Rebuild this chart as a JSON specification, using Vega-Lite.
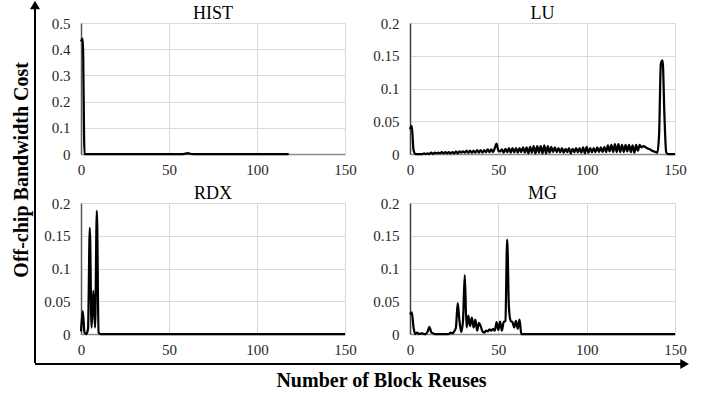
{
  "$schema": "https://vega.github.io/schema/vega-lite/v6.json",
  "padding": {"left": 0, "top": 0, "right": 0, "bottom": 0},
  "background": "white",
  "config": {
    "font": "Times New Roman, Liberation Serif, serif",
    "view": {"stroke": null},
    "axis": {"labelFont": "Times New Roman, Liberation Serif, serif", "labelFontSize": 15, "labelColor": "#262626", "ticks": false, "gridColor": "#d9d9d9", "gridWidth": 1, "title": null, "labelFlush": false},
    "line": {"color": "black", "strokeWidth": 2.25, "interpolate": "monotone"}
  },
  "datasets": {
    "HIST": [
      {"reuse": 0, "cost": 0.43}, {"reuse": 1, "cost": 0.44}, {"reuse": 2, "cost": 0}, {"reuse": 3, "cost": 0},
      {"reuse": 20, "cost": 0}, {"reuse": 40, "cost": 0}, {"reuse": 58, "cost": 0}, {"reuse": 60, "cost": 0.002},
      {"reuse": 61, "cost": 0.003}, {"reuse": 62, "cost": 0.001}, {"reuse": 64, "cost": 0}, {"reuse": 80, "cost": 0},
      {"reuse": 100, "cost": 0}, {"reuse": 118, "cost": 0}
    ],
    "RDX": [
      {"reuse": 0, "cost": 0.004}, {"reuse": 1, "cost": 0.035}, {"reuse": 2, "cost": 0.002}, {"reuse": 3, "cost": 0},
      {"reuse": 4, "cost": 0.008}, {"reuse": 5, "cost": 0.162}, {"reuse": 6, "cost": 0.01}, {"reuse": 7, "cost": 0.066},
      {"reuse": 8, "cost": 0.01}, {"reuse": 9, "cost": 0.188}, {"reuse": 10, "cost": 0.002}, {"reuse": 11, "cost": 0},
      {"reuse": 30, "cost": 0}, {"reuse": 60, "cost": 0}, {"reuse": 90, "cost": 0}, {"reuse": 120, "cost": 0}, {"reuse": 150, "cost": 0}
    ],
    "MG": [
      {"reuse": 0, "cost": 0.03}, {"reuse": 1, "cost": 0.033}, {"reuse": 2, "cost": 0.01}, {"reuse": 3, "cost": 0},
      {"reuse": 4, "cost": 0.002}, {"reuse": 5, "cost": 0}, {"reuse": 7, "cost": 0.001}, {"reuse": 8, "cost": 0},
      {"reuse": 9, "cost": 0}, {"reuse": 10, "cost": 0.004}, {"reuse": 11, "cost": 0.011}, {"reuse": 12, "cost": 0.003},
      {"reuse": 13, "cost": 0.001}, {"reuse": 14, "cost": 0}, {"reuse": 18, "cost": 0}, {"reuse": 22, "cost": 0},
      {"reuse": 23, "cost": 0.002}, {"reuse": 24, "cost": 0.001}, {"reuse": 25, "cost": 0.004}, {"reuse": 26, "cost": 0.01},
      {"reuse": 27, "cost": 0.047}, {"reuse": 28, "cost": 0.02}, {"reuse": 29, "cost": 0.003}, {"reuse": 30, "cost": 0.02},
      {"reuse": 31, "cost": 0.09}, {"reuse": 32, "cost": 0.01}, {"reuse": 33, "cost": 0.028}, {"reuse": 34, "cost": 0.012},
      {"reuse": 35, "cost": 0.025}, {"reuse": 36, "cost": 0.01}, {"reuse": 37, "cost": 0.022}, {"reuse": 38, "cost": 0.005},
      {"reuse": 39, "cost": 0.017}, {"reuse": 40, "cost": 0.012}, {"reuse": 41, "cost": 0.004}, {"reuse": 42, "cost": 0.002},
      {"reuse": 43, "cost": 0.005}, {"reuse": 44, "cost": 0.004}, {"reuse": 45, "cost": 0.007}, {"reuse": 46, "cost": 0.005},
      {"reuse": 47, "cost": 0.008}, {"reuse": 48, "cost": 0.005}, {"reuse": 49, "cost": 0.018}, {"reuse": 50, "cost": 0.006},
      {"reuse": 51, "cost": 0.019}, {"reuse": 52, "cost": 0.005}, {"reuse": 53, "cost": 0.018}, {"reuse": 54, "cost": 0.02},
      {"reuse": 55, "cost": 0.144}, {"reuse": 56, "cost": 0.04}, {"reuse": 57, "cost": 0.02}, {"reuse": 58, "cost": 0.018},
      {"reuse": 59, "cost": 0.01}, {"reuse": 60, "cost": 0.02}, {"reuse": 61, "cost": 0.008}, {"reuse": 62, "cost": 0.022},
      {"reuse": 63, "cost": 0}, {"reuse": 64, "cost": 0}, {"reuse": 90, "cost": 0}, {"reuse": 120, "cost": 0}, {"reuse": 150, "cost": 0}
    ],
    "LU": [
      {"reuse": 0, "cost": 0.038}, {"reuse": 1, "cost": 0.043}, {"reuse": 2, "cost": 0.006}, {"reuse": 3, "cost": 0},
      {"reuse": 4, "cost": 0}, {"reuse": 5, "cost": 0}, {"reuse": 6, "cost": 0}, {"reuse": 7, "cost": 0},
      {"reuse": 8, "cost": 0.001}, {"reuse": 9, "cost": 0}, {"reuse": 10, "cost": 0.001}, {"reuse": 11, "cost": 0},
      {"reuse": 12, "cost": 0.002}, {"reuse": 13, "cost": 0}, {"reuse": 14, "cost": 0.002}, {"reuse": 15, "cost": 0.001},
      {"reuse": 16, "cost": 0.002}, {"reuse": 17, "cost": 0.001}, {"reuse": 18, "cost": 0.003}, {"reuse": 19, "cost": 0.001},
      {"reuse": 20, "cost": 0.003}, {"reuse": 21, "cost": 0.001}, {"reuse": 22, "cost": 0.003}, {"reuse": 23, "cost": 0.001},
      {"reuse": 24, "cost": 0.003}, {"reuse": 25, "cost": 0.001}, {"reuse": 26, "cost": 0.004}, {"reuse": 27, "cost": 0.001},
      {"reuse": 28, "cost": 0.004}, {"reuse": 29, "cost": 0.002}, {"reuse": 30, "cost": 0.004}, {"reuse": 31, "cost": 0.002},
      {"reuse": 32, "cost": 0.005}, {"reuse": 33, "cost": 0.002}, {"reuse": 34, "cost": 0.005}, {"reuse": 35, "cost": 0.002},
      {"reuse": 36, "cost": 0.005}, {"reuse": 37, "cost": 0.002}, {"reuse": 38, "cost": 0.006}, {"reuse": 39, "cost": 0.002},
      {"reuse": 40, "cost": 0.006}, {"reuse": 41, "cost": 0.002}, {"reuse": 42, "cost": 0.006}, {"reuse": 43, "cost": 0.003},
      {"reuse": 44, "cost": 0.007}, {"reuse": 45, "cost": 0.003}, {"reuse": 46, "cost": 0.007}, {"reuse": 47, "cost": 0.003},
      {"reuse": 48, "cost": 0.009}, {"reuse": 49, "cost": 0.016}, {"reuse": 50, "cost": 0.005}, {"reuse": 51, "cost": 0.004},
      {"reuse": 52, "cost": 0.007}, {"reuse": 53, "cost": 0.002}, {"reuse": 54, "cost": 0.008}, {"reuse": 55, "cost": 0.003},
      {"reuse": 56, "cost": 0.009}, {"reuse": 57, "cost": 0.002}, {"reuse": 58, "cost": 0.009}, {"reuse": 59, "cost": 0.003},
      {"reuse": 60, "cost": 0.009}, {"reuse": 61, "cost": 0.002}, {"reuse": 62, "cost": 0.009}, {"reuse": 63, "cost": 0.003},
      {"reuse": 64, "cost": 0.01}, {"reuse": 65, "cost": 0.002}, {"reuse": 66, "cost": 0.01}, {"reuse": 67, "cost": 0.001},
      {"reuse": 68, "cost": 0.011}, {"reuse": 69, "cost": 0.002}, {"reuse": 70, "cost": 0.012}, {"reuse": 71, "cost": 0.001},
      {"reuse": 72, "cost": 0.012}, {"reuse": 73, "cost": 0.002}, {"reuse": 74, "cost": 0.012}, {"reuse": 75, "cost": 0.001},
      {"reuse": 76, "cost": 0.013}, {"reuse": 77, "cost": 0.001}, {"reuse": 78, "cost": 0.012}, {"reuse": 79, "cost": 0.002},
      {"reuse": 80, "cost": 0.011}, {"reuse": 81, "cost": 0.003}, {"reuse": 82, "cost": 0.01}, {"reuse": 83, "cost": 0.003},
      {"reuse": 84, "cost": 0.009}, {"reuse": 85, "cost": 0.003}, {"reuse": 86, "cost": 0.009}, {"reuse": 87, "cost": 0.002},
      {"reuse": 88, "cost": 0.008}, {"reuse": 89, "cost": 0.003}, {"reuse": 90, "cost": 0.009}, {"reuse": 91, "cost": 0.001},
      {"reuse": 92, "cost": 0.008}, {"reuse": 93, "cost": 0.003}, {"reuse": 94, "cost": 0.009}, {"reuse": 95, "cost": 0.003},
      {"reuse": 96, "cost": 0.009}, {"reuse": 97, "cost": 0.002}, {"reuse": 98, "cost": 0.01}, {"reuse": 99, "cost": 0.001},
      {"reuse": 100, "cost": 0.011}, {"reuse": 101, "cost": 0.002}, {"reuse": 102, "cost": 0.009}, {"reuse": 103, "cost": 0.003},
      {"reuse": 104, "cost": 0.009}, {"reuse": 105, "cost": 0.003}, {"reuse": 106, "cost": 0.01}, {"reuse": 107, "cost": 0.003},
      {"reuse": 108, "cost": 0.01}, {"reuse": 109, "cost": 0.003}, {"reuse": 110, "cost": 0.011}, {"reuse": 111, "cost": 0.003},
      {"reuse": 112, "cost": 0.013}, {"reuse": 113, "cost": 0.004}, {"reuse": 114, "cost": 0.014}, {"reuse": 115, "cost": 0.003},
      {"reuse": 116, "cost": 0.015}, {"reuse": 117, "cost": 0.003}, {"reuse": 118, "cost": 0.015}, {"reuse": 119, "cost": 0.003},
      {"reuse": 120, "cost": 0.014}, {"reuse": 121, "cost": 0.003}, {"reuse": 122, "cost": 0.014}, {"reuse": 123, "cost": 0.004},
      {"reuse": 124, "cost": 0.014}, {"reuse": 125, "cost": 0.003}, {"reuse": 126, "cost": 0.013}, {"reuse": 127, "cost": 0.002},
      {"reuse": 128, "cost": 0.014}, {"reuse": 129, "cost": 0.005}, {"reuse": 130, "cost": 0.014}, {"reuse": 131, "cost": 0.01},
      {"reuse": 132, "cost": 0.012}, {"reuse": 133, "cost": 0.011}, {"reuse": 134, "cost": 0.009}, {"reuse": 135, "cost": 0.008},
      {"reuse": 136, "cost": 0.007}, {"reuse": 137, "cost": 0.005}, {"reuse": 138, "cost": 0.004}, {"reuse": 139, "cost": 0.003},
      {"reuse": 140, "cost": 0.002}, {"reuse": 141, "cost": 0.03}, {"reuse": 142, "cost": 0.138}, {"reuse": 143, "cost": 0.143},
      {"reuse": 144, "cost": 0.06}, {"reuse": 145, "cost": 0.003}, {"reuse": 146, "cost": 0}, {"reuse": 147, "cost": 0},
      {"reuse": 148, "cost": 0}, {"reuse": 149, "cost": 0}, {"reuse": 150, "cost": 0}
    ]
  },
  "spacing": -6,
  "vconcat": [
    {
      "spacing": 3,
      "hconcat": [
        {
          "width": 40,
          "height": 340,
          "data": {"values": [{"label": "Off-chip Bandwidth Cost"}]},
          "layer": [
            {
              "mark": {"type": "rule", "color": "black", "strokeWidth": 2, "clip": false},
              "encoding": {
                "x": {"datum": 0.875, "type": "quantitative", "scale": {"domain": [0, 1], "nice": false}, "axis": null},
                "y": {"datum": 0, "type": "quantitative", "scale": {"domain": [0, 1], "nice": false}, "axis": null},
                "y2": {"datum": 1.041}
              }
            },
            {
              "mark": {"type": "point", "shape": "triangle-up", "filled": true, "color": "black", "size": 100, "opacity": 1, "clip": false},
              "encoding": {
                "x": {"datum": 0.875, "type": "quantitative"},
                "y": {"datum": 1.053, "type": "quantitative"}
              }
            },
            {
              "mark": {"type": "text", "angle": 270, "font": "Times New Roman, Liberation Serif, serif", "fontSize": 20, "fontWeight": "bold", "align": "center", "baseline": "middle", "color": "black"},
              "encoding": {
                "x": {"datum": 0.54, "type": "quantitative"},
                "y": {"datum": 0.568, "type": "quantitative"},
                "text": {"field": "label"}
              }
            }
          ]
        },
        {
          "spacing": 8,
          "vconcat": [
            {
              "spacing": 15,
              "hconcat": [
                {
                  "title": {"text": "HIST", "font": "Times New Roman, Liberation Serif, serif", "fontSize": 18, "fontWeight": "normal", "offset": -7, "color": "black"},
                  "width": 264, "height": 131,
                  "data": {"name": "HIST"},
                  "mark": "line",
                  "encoding": {
                    "x": {"field": "reuse", "type": "quantitative", "scale": {"domain": [0, 150], "nice": false}, "axis": {"values": [0, 50, 100, 150], "format": "d", "labelPadding": 8, "labelFont": "Times New Roman, Liberation Serif, serif", "domainColor": "#8c8c8c", "domainWidth": 1.5}},
                    "y": {"field": "cost", "type": "quantitative", "scale": {"domain": [0, 0.5], "nice": false}, "axis": {"values": [0, 0.1, 0.2, 0.3, 0.4, 0.5], "format": ".2~f", "labelPadding": 11, "labelFont": "Times New Roman, Liberation Serif, serif", "minExtent": 38, "maxExtent": 38, "domainColor": "#595959", "domainWidth": 1.5}}
                  }
                },
                {
                  "title": {"text": "LU", "font": "Times New Roman, Liberation Serif, serif", "fontSize": 18, "fontWeight": "normal", "offset": -7, "color": "black"},
                  "width": 265, "height": 131,
                  "data": {"name": "LU"},
                  "mark": "line",
                  "encoding": {
                    "x": {"field": "reuse", "type": "quantitative", "scale": {"domain": [0, 150], "nice": false}, "axis": {"values": [0, 50, 100, 150], "format": "d", "labelPadding": 8, "labelFont": "Times New Roman, Liberation Serif, serif", "domainColor": "#8c8c8c", "domainWidth": 1.5}},
                    "y": {"field": "cost", "type": "quantitative", "scale": {"domain": [0, 0.2], "nice": false}, "axis": {"values": [0, 0.05, 0.1, 0.15, 0.2], "format": ".2~f", "labelPadding": 11, "labelFont": "Times New Roman, Liberation Serif, serif", "minExtent": 38, "maxExtent": 38, "domainColor": "#404040", "domainWidth": 1.5}}
                  }
                }
              ]
            },
            {
              "spacing": 15,
              "hconcat": [
                {
                  "title": {"text": "RDX", "font": "Times New Roman, Liberation Serif, serif", "fontSize": 18, "fontWeight": "normal", "offset": -7, "color": "black"},
                  "width": 264, "height": 131,
                  "data": {"name": "RDX"},
                  "mark": "line",
                  "encoding": {
                    "x": {"field": "reuse", "type": "quantitative", "scale": {"domain": [0, 150], "nice": false}, "axis": {"values": [0, 50, 100, 150], "format": "d", "labelPadding": 8, "labelFont": "Times New Roman, Liberation Serif, serif", "domainColor": "#8c8c8c", "domainWidth": 1.5}},
                    "y": {"field": "cost", "type": "quantitative", "scale": {"domain": [0, 0.2], "nice": false}, "axis": {"values": [0, 0.05, 0.1, 0.15, 0.2], "format": ".2~f", "labelPadding": 11, "labelFont": "Times New Roman, Liberation Serif, serif", "minExtent": 38, "maxExtent": 38, "domainColor": "#595959", "domainWidth": 1.5}}
                  }
                },
                {
                  "title": {"text": "MG", "font": "Times New Roman, Liberation Serif, serif", "fontSize": 18, "fontWeight": "normal", "offset": -7, "color": "black"},
                  "width": 265, "height": 131,
                  "data": {"name": "MG"},
                  "mark": "line",
                  "encoding": {
                    "x": {"field": "reuse", "type": "quantitative", "scale": {"domain": [0, 150], "nice": false}, "axis": {"values": [0, 50, 100, 150], "format": "d", "labelPadding": 8, "labelFont": "Times New Roman, Liberation Serif, serif", "domainColor": "#8c8c8c", "domainWidth": 1.5}},
                    "y": {"field": "cost", "type": "quantitative", "scale": {"domain": [0, 0.2], "nice": false}, "axis": {"values": [0, 0.05, 0.1, 0.15, 0.2], "format": ".2~f", "labelPadding": 11, "labelFont": "Times New Roman, Liberation Serif, serif", "minExtent": 38, "maxExtent": 38, "domainColor": "#404040", "domainWidth": 1.5}}
                  }
                }
              ]
            }
          ]
        }
      ]
    },
    {
      "width": 700,
      "height": 26,
      "data": {"values": [{"label": "Number of Block Reuses"}]},
      "layer": [
        {
          "mark": {"type": "rule", "color": "black", "strokeWidth": 2, "clip": false},
          "encoding": {
            "x": {"datum": 0.05, "type": "quantitative", "scale": {"domain": [0, 1], "nice": false}, "axis": null},
            "x2": {"datum": 0.975},
            "y": {"datum": 1, "type": "quantitative", "scale": {"domain": [0, 1], "nice": false}, "axis": null}
          }
        },
        {
          "mark": {"type": "point", "shape": "triangle-right", "filled": true, "color": "black", "size": 100, "opacity": 1, "clip": false},
          "encoding": {
            "x": {"datum": 0.978, "type": "quantitative"},
            "y": {"datum": 1, "type": "quantitative"}
          }
        },
        {
          "mark": {"type": "text", "font": "Times New Roman, Liberation Serif, serif", "fontSize": 20, "fontWeight": "bold", "align": "center", "baseline": "middle", "color": "black"},
          "encoding": {
            "x": {"datum": 0.545, "type": "quantitative"},
            "y": {"datum": 0.35, "type": "quantitative"},
            "text": {"field": "label"}
          }
        }
      ]
    }
  ]
}
